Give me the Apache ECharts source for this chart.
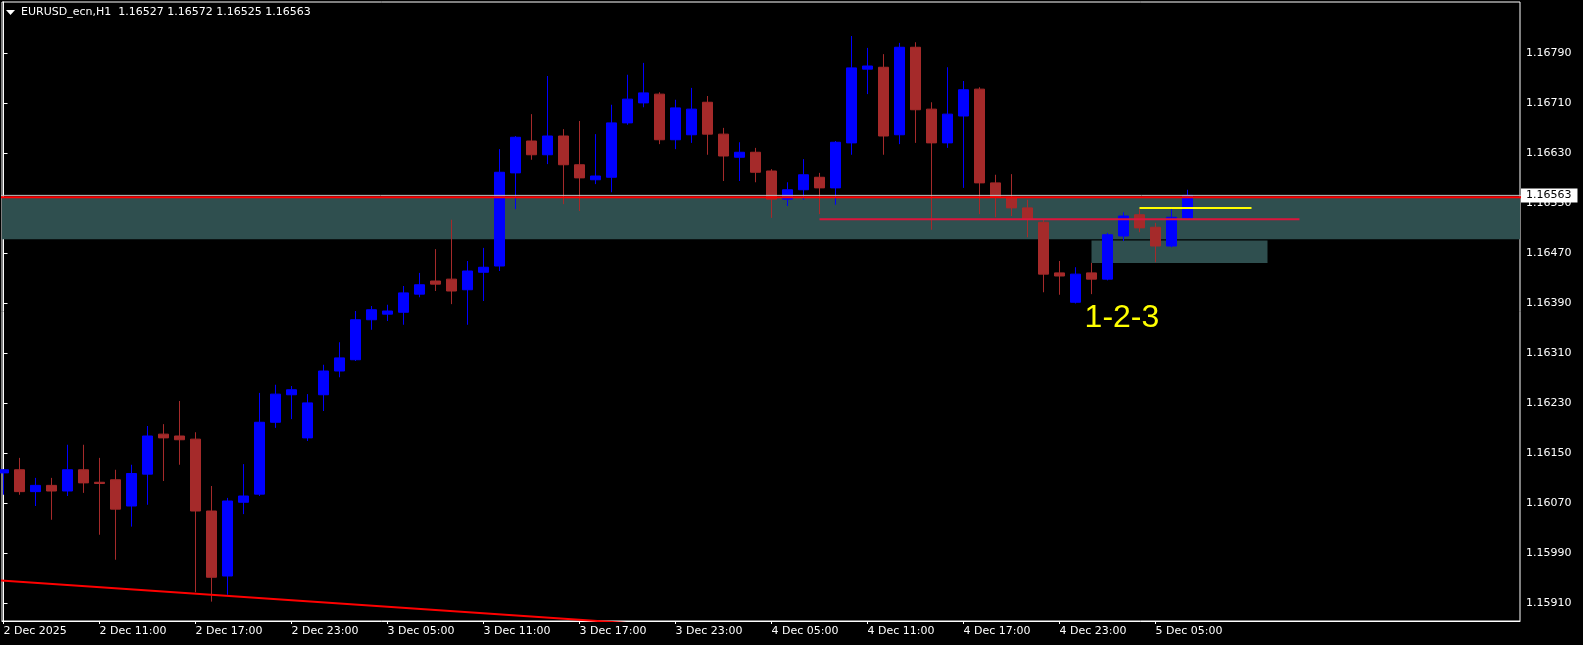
<!DOCTYPE html>
<html><head><meta charset="utf-8">
<script src="https://cdn.jsdelivr.net/npm/echarts@6/dist/echarts.min.js"></script>
<style>html,body{margin:0;padding:0;background:#000;}#c{width:1583px;height:645px;}</style>
</head><body><div id="c"></div>
<script>
// ---- data (hourly bars from 2 Dec 2025 05:00) ----
const symbolName = 'EURUSD_ecn';
const timeframe = 'H1';
const openP = [1.16119,1.16124,1.16089,1.16099,1.16090,1.16124,1.16104,1.16108,1.16066,1.16117,
  1.16181,1.16178,1.16173,1.16058,1.15954,1.16072,1.16085,1.16200,1.16244,1.16175,
  1.16244,1.16282,1.16300,1.16364,1.16373,1.16376,1.16405,1.16426,1.16429,1.16412,
  1.16440,1.16450,1.16599,1.16650,1.16628,1.16658,1.16612,1.16588,1.16592,1.16679,
  1.16711,1.16725,1.16652,1.16660,1.16712,1.16661,1.16624,1.16632,1.16602,1.16557,
  1.16572,1.16592,1.16575,1.16647,1.16765,1.16768,1.16660,1.16800,1.16701,1.16647,
  1.16690,1.16733,1.16583,1.16560,1.16543,1.16520,1.16439,1.16392,1.16439,1.16429,
  1.16498,1.16532,1.16512,1.16482,1.16527];
const highP = [1.16125,1.16143,1.16111,1.16111,1.16164,1.16164,1.16143,1.16124,1.16132,1.16194,
  1.16197,1.16234,1.16184,1.16098,1.16079,1.16133,1.16247,1.16260,1.16258,1.16245,
  1.16292,1.16328,1.16378,1.16386,1.16388,1.16418,1.16439,1.16477,1.16524,1.16458,
  1.16479,1.16637,1.16658,1.16693,1.16754,1.16669,1.16682,1.16661,1.16708,1.16756,
  1.16775,1.16728,1.16716,1.16735,1.16722,1.16671,1.16648,1.16639,1.16605,1.16584,
  1.16621,1.16599,1.16650,1.16818,1.16799,1.16789,1.16807,1.16808,1.16712,1.16768,
  1.16746,1.16736,1.16596,1.16597,1.16556,1.16525,1.16458,1.16448,1.16455,1.16503,
  1.16536,1.16541,1.16519,1.16541,1.16572];
const lowP = [1.16084,1.16084,1.16066,1.16044,1.16082,1.16087,1.16020,1.15980,1.16033,1.16068,
  1.16106,1.16132,1.15928,1.15913,1.15924,1.16053,1.16082,1.16191,1.16205,1.16170,
  1.16218,1.16272,1.16298,1.16348,1.16362,1.16356,1.16400,1.16410,1.16389,1.16356,
  1.16394,1.16442,1.16541,1.16620,1.16613,1.16549,1.16538,1.16581,1.16568,1.16676,
  1.16704,1.16645,1.16637,1.16647,1.16628,1.16586,1.16586,1.16584,1.16527,1.16546,
  1.16556,1.16533,1.16548,1.16628,1.16725,1.16628,1.16645,1.16647,1.16508,1.16639,
  1.16575,1.16533,1.16528,1.16530,1.16496,1.16408,1.16404,1.16390,1.16405,1.16427,
  1.16490,1.16504,1.16456,1.16480,1.16525];
const closeP = [1.16124,1.16089,1.16099,1.16090,1.16124,1.16103,1.16102,1.16061,1.16118,1.16178,
  1.16175,1.16172,1.16058,1.15952,1.16074,1.16082,1.16200,1.16245,1.16252,1.16231,
  1.16282,1.16303,1.16364,1.16380,1.16378,1.16407,1.16420,1.16421,1.16410,1.16442,
  1.16448,1.16600,1.16656,1.16628,1.16658,1.16612,1.16591,1.16594,1.16679,1.16717,
  1.16727,1.16652,1.16703,1.16701,1.16661,1.16626,1.16632,1.16600,1.16557,1.16572,
  1.16596,1.16575,1.16648,1.16767,1.16770,1.16658,1.16800,1.16700,1.16647,1.16693,
  1.16732,1.16583,1.16560,1.16543,1.16525,1.16437,1.16434,1.16437,1.16429,1.16500,
  1.16530,1.16511,1.16482,1.16528,1.16563];

// time axis tick labels (bar index -> label)
const timeTickIdx = [0,6,12,18,24,30,36,42,48,54,60,66,72];
const timeLabels = ['2 Dec 2025','2 Dec 11:00','2 Dec 17:00','2 Dec 23:00','3 Dec 05:00','3 Dec 11:00',
  '3 Dec 17:00','3 Dec 23:00','4 Dec 05:00','4 Dec 11:00','4 Dec 17:00','4 Dec 23:00','5 Dec 05:00'];
// price axis tick labels
const priceTicks = [1.15910,1.15990,1.16070,1.16150,1.16230,1.16310,1.16390,1.16470,1.16550,1.16630,1.16710,1.16790];

// drawn objects (bar index, price)
const zones = [[-5, 100, 1.16493, 1.16560], [68, 79, 1.16455, 1.16491]];
const redLevel = 1.16560;
const crimsonSeg = [[51, 1.16525], [81, 1.16525]];
const yellowSeg = [[71, 1.16543], [78, 1.16543]];
const trendSeg = [[-2, 1.15950], [40, 1.15877]];
const patternText = '1-2-3';
const patternAt = [67.6, 1.16365];

// ---- chart ----
const FONT = 'DejaVu Sans';
const X_MIN = -0.09375, X_MAX = 94.78125;
const Y_MIN = 1.15882, Y_MAX = 1.168724;
const n = closeP.length;
const lastClose = closeP[n - 1];
const candleRows = openP.map((o, i) => [i, o, closeP[i], lowP[i], highP[i]]);
const f5 = v => v.toFixed(5);
const titleText = symbolName + ',' + timeframe + '  ' + [openP[n-1], highP[n-1], lowP[n-1], closeP[n-1]].map(f5).join(' ');

function hLine(data, color, width, z) {
  return {type: 'line', data: data, symbol: 'none', showSymbol: false, silent: true, clip: true, z: z || 4,
    lineStyle: {color: color, width: width}, emphasis: {disabled: true}};
}

const chart = echarts.init(document.getElementById('c'), null, {renderer: 'canvas'});
chart.setOption({
  backgroundColor: '#000000',
  animation: false,
  textStyle: {fontFamily: FONT},
  title: {text: titleText, left: 21, top: 7, padding: 0,
    textStyle: {color: '#ffffff', fontSize: 11, fontWeight: 'normal', fontFamily: FONT}},
  graphic: [{type: 'polygon', shape: {points: [[6, 10], [15, 10], [10.5, 15]]}, style: {fill: '#ffffff'}}],
  grid: {left: 2, right: 63, top: 2, bottom: 24, show: true, borderColor: '#ffffff', borderWidth: 1,
    backgroundColor: 'transparent'},
  xAxis: {type: 'value', min: X_MIN, max: X_MAX, splitLine: {show: false},
    axisLine: {show: true, lineStyle: {color: '#ffffff'}},
    axisTick: {show: true, customValues: timeTickIdx, length: 3, lineStyle: {color: '#ffffff'}},
    axisLabel: {customValues: timeTickIdx, color: '#ffffff', fontSize: 11, fontFamily: FONT, align: 'left', margin: 5,
      formatter: v => timeLabels[timeTickIdx.indexOf(Math.round(v))]}},
  yAxis: [
    {type: 'value', position: 'right', min: Y_MIN, max: Y_MAX, splitLine: {show: false},
      axisLine: {show: true, lineStyle: {color: '#ffffff'}},
      axisTick: {show: true, customValues: priceTicks, length: 4, lineStyle: {color: '#ffffff'}},
      axisLabel: {customValues: priceTicks, color: '#ffffff', fontSize: 11, fontFamily: FONT, margin: 6, formatter: f5}},
    {type: 'value', position: 'right', min: Y_MIN, max: Y_MAX, splitLine: {show: false}, z: 10,
      axisLine: {show: false}, axisTick: {show: false},
      axisLabel: {customValues: [lastClose], color: '#000000', backgroundColor: '#ffffff', padding: [1, 6, 1, 5],
        lineHeight: 12, fontSize: 11, fontFamily: FONT, margin: 1, formatter: f5}}
  ],
  series: [
    {type: 'custom', z: 1, silent: true, clip: true, data: zones, encode: {x: [0, 1], y: [2, 3]},
      renderItem: (params, api) => {
        const p0 = api.coord([api.value(0), api.value(3)]);
        const p1 = api.coord([api.value(1), api.value(2)]);
        return {type: 'rect', shape: {x: p0[0], y: p0[1], width: p1[0] - p0[0], height: p1[1] - p0[1]},
          style: {fill: '#2F4F4F'}};
      }},
    {type: 'candlestick', z: 2, data: candleRows, encode: {x: 0, y: [1, 2, 3, 4]}, barWidth: 10, clip: true,
      silent: true,
      itemStyle: {color: '#0000FF', color0: '#A52A2A', borderColor: '#0000FF', borderColor0: '#A52A2A', borderWidth: 1}},
    hLine([[-5, lastClose], [100, lastClose]], '#C0C0C0', 1, 3),
    hLine([[-5, redLevel], [100, redLevel]], '#FF0000', 2, 4),
    hLine(crimsonSeg, '#DC143C', 2, 4),
    hLine(trendSeg, '#FF0000', 2, 4),
    Object.assign(hLine(yellowSeg, '#FFFF00', 2, 5), {
      markPoint: {silent: true, symbol: 'circle', symbolSize: 1, itemStyle: {color: 'rgba(0,0,0,0)'},
        data: [{coord: patternAt}],
        label: {show: true, formatter: patternText, color: '#FFFF00', fontSize: 32, fontFamily: 'Liberation Sans',
          position: [0, 0], align: 'left', verticalAlign: 'middle'}}
    })
  ]
});
</script></body></html>
